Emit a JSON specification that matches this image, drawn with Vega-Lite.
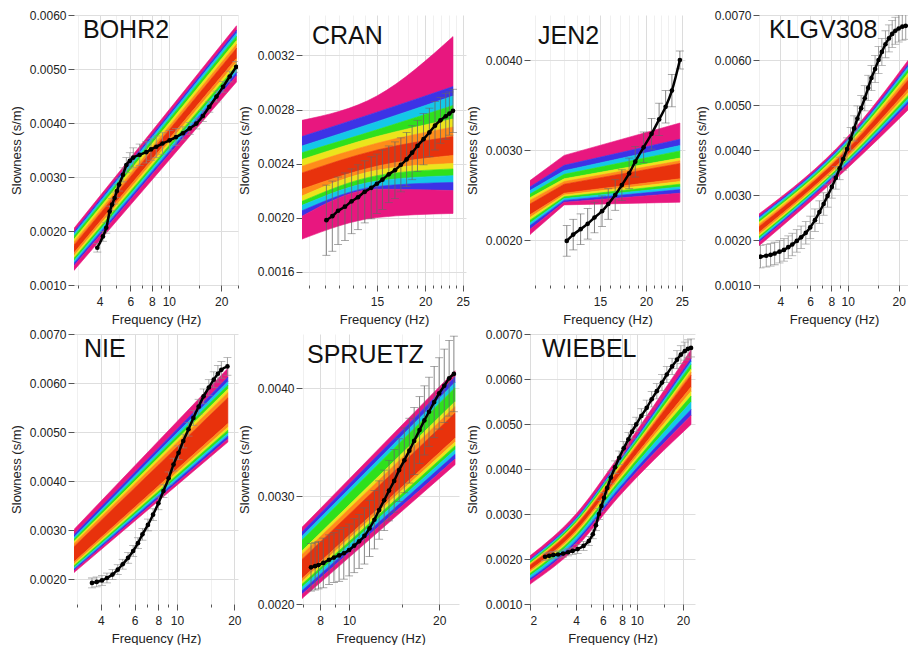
{
"$schema":"https://vega.github.io/schema/vega-lite/v6.json",
"padding":{"left":10,"top":9,"right":0,"bottom":0},
"bounds":"flush",
"columns":4,
"align":"each",
"spacing":{"row":49,"column":64},
"config":{
 "view":{"stroke":null},
 "font":"Liberation Sans",
 "axis":{"labelFontSize":12,"titleFontSize":13,"labelColor":"#222","titleColor":"#222","titleFontWeight":"normal","domain":false,"tickColor":"#555","gridColor":"#dedede","labelPadding":2,"titlePadding":5,"tickSize":5,"labelFont":"Liberation Sans","titleFont":"Liberation Sans","labelOverlap":false},
 "axisX":{"labelPadding":5,"titlePadding":6},
 "axisY":{"titlePadding":6,"tickSize":6,"format":".4f"},
 "area":{"interpolate":"monotone"},
 "title":{"fontSize":25,"fontWeight":"normal","anchor":"start","frame":"group","color":"#111","offset":-34,"font":"Liberation Sans"}
},
"datasets":{
"fan":[
{"p":"BOHR2","f":2.85,"b0":0.00205,"b1":0.001988,"b2":0.001949,"b3":0.001902,"b4":0.001847,"b5":0.001793,"b6":0.001738,"b7":0.001598,"b8":0.001543,"b9":0.001496,"b10":0.001449,"b11":0.001403,"b12":0.001356,"b13":0.00127},
{"p":"BOHR2","f":24.5,"b0":0.0058,"b1":0.005717,"b2":0.005665,"b3":0.005602,"b4":0.00553,"b5":0.005457,"b6":0.005384,"b7":0.005197,"b8":0.005124,"b9":0.005062,"b10":0.004999,"b11":0.004937,"b12":0.004874,"b13":0.00476},
{"p":"CRAN","f":9.6,"b0":0.00272,"b1":0.0026,"b2":0.00253,"b3":0.00248,"b4":0.00243,"b5":0.00238,"b6":0.00233,"b7":0.00221,"b8":0.00216,"b9":0.00212,"b10":0.00209,"b11":0.00205,"b12":0.00201,"b13":0.00184},
{"p":"CRAN","f":15,"b0":0.0029,"b1":0.00278,"b2":0.00271,"b3":0.00265,"b4":0.0026,"b5":0.00255,"b6":0.0025,"b7":0.00238,"b8":0.00235,"b9":0.00231,"b10":0.00227,"b11":0.00223,"b12":0.00221,"b13":0.002},
{"p":"CRAN","f":23.6,"b0":0.00334,"b1":0.00297,"b2":0.0029,"b3":0.00283,"b4":0.00273,"b5":0.00267,"b6":0.0026,"b7":0.00246,"b8":0.0024,"b9":0.00236,"b10":0.00231,"b11":0.00226,"b12":0.0022,"b13":0.00203},
{"p":"JEN2","f":9.7,"b0":0.00266,"b1":0.00259,"b2":0.00255,"b3":0.00251,"b4":0.00247,"b5":0.00244,"b6":0.0024,"b7":0.00228,"b8":0.00225,"b9":0.00222,"b10":0.00219,"b11":0.00216,"b12":0.00212,"b13":0.00206},
{"p":"JEN2","f":12,"b0":0.00294,"b1":0.00283,"b2":0.00277,"b3":0.00273,"b4":0.00268,"b5":0.00265,"b6":0.00262,"b7":0.00252,"b8":0.0025,"b9":0.00248,"b10":0.00246,"b11":0.00244,"b12":0.00242,"b13":0.00239},
{"p":"JEN2","f":24.7,"b0":0.0033,"b1":0.00312,"b2":0.00305,"b3":0.00299,"b4":0.00291,"b5":0.00288,"b6":0.00285,"b7":0.00268,"b8":0.00265,"b9":0.00262,"b10":0.00259,"b11":0.00256,"b12":0.00252,"b13":0.00242},
{"p":"KLGV308","f":2.99,"b0":0.00258,"b1":0.002523,"b2":0.002488,"b3":0.002445,"b4":0.002395,"b5":0.002346,"b6":0.002296,"b7":0.002168,"b8":0.002118,"b9":0.002076,"b10":0.002033,"b11":0.001991,"b12":0.001948,"b13":0.00187},
{"p":"KLGV308","f":10,"b0":0.0043,"b1":0.004244,"b2":0.004209,"b3":0.004167,"b4":0.004118,"b5":0.004069,"b6":0.00402,"b7":0.003894,"b8":0.003845,"b9":0.003803,"b10":0.003761,"b11":0.003719,"b12":0.003677,"b13":0.0036},
{"p":"KLGV308","f":23,"b0":0.00602,"b1":0.005931,"b2":0.005876,"b3":0.005809,"b4":0.005731,"b5":0.005654,"b6":0.005576,"b7":0.005376,"b8":0.005298,"b9":0.005232,"b10":0.005165,"b11":0.005099,"b12":0.005032,"b13":0.00491},
{"p":"NIE","f":2.89,"b0":0.00302,"b1":0.002914,"b2":0.002862,"b3":0.002818,"b4":0.002774,"b5":0.00273,"b6":0.002668,"b7":0.00236,"b8":0.002316,"b9":0.002281,"b10":0.002246,"b11":0.00221,"b12":0.002175,"b13":0.00214},
{"p":"NIE","f":18.5,"b0":0.0063,"b1":0.00612,"b2":0.00603,"b3":0.005955,"b4":0.00588,"b5":0.005805,"b6":0.0057,"b7":0.005175,"b8":0.0051,"b9":0.00504,"b10":0.00498,"b11":0.00492,"b12":0.00486,"b13":0.0048},
{"p":"SPRUETZ","f":6.96,"b0":0.00271,"b1":0.002667,"b2":0.002628,"b3":0.002591,"b4":0.002492,"b5":0.002459,"b6":0.002413,"b7":0.002235,"b8":0.002208,"b9":0.002182,"b10":0.002156,"b11":0.002123,"b12":0.00209,"b13":0.00205},
{"p":"SPRUETZ","f":22.6,"b0":0.00416,"b1":0.004103,"b2":0.004051,"b3":0.004003,"b4":0.003873,"b5":0.003829,"b6":0.003768,"b7":0.003534,"b8":0.003499,"b9":0.003464,"b10":0.003429,"b11":0.003386,"b12":0.003342,"b13":0.00329},
{"p":"WIEBEL","f":2,"b0":0.00207,"b1":0.001994,"b2":0.001969,"b3":0.001944,"b4":0.001906,"b5":0.001881,"b6":0.001856,"b7":0.001755,"b8":0.001717,"b9":0.001679,"b10":0.001629,"b11":0.001566,"b12":0.001516,"b13":0.00144},
{"p":"WIEBEL","f":4,"b0":0.003,"b1":0.002911,"b2":0.002882,"b3":0.002852,"b4":0.002808,"b5":0.002778,"b6":0.002748,"b7":0.00263,"b8":0.002586,"b9":0.002541,"b10":0.002482,"b11":0.002408,"b12":0.002349,"b13":0.00226},
{"p":"WIEBEL","f":7.5,"b0":0.00425,"b1":0.004143,"b2":0.004108,"b3":0.004072,"b4":0.004019,"b5":0.003983,"b6":0.003947,"b7":0.003805,"b8":0.003752,"b9":0.003698,"b10":0.003627,"b11":0.003538,"b12":0.003467,"b13":0.00336},
{"p":"WIEBEL","f":22.6,"b0":0.00665,"b1":0.006451,"b2":0.006384,"b3":0.006318,"b4":0.006218,"b5":0.006152,"b6":0.006086,"b7":0.00582,"b8":0.00572,"b9":0.005621,"b10":0.005488,"b11":0.005322,"b12":0.005189,"b13":0.00499}
],
"obs":[
{"p":"BOHR2","f":3.88,"s":0.00169,"lo":0.00161,"hi":0.00177},
{"p":"BOHR2","f":4.18,"s":0.0019,"lo":0.00181,"hi":0.00199},
{"p":"BOHR2","f":4.37,"s":0.00206,"lo":0.00196,"hi":0.00216},
{"p":"BOHR2","f":4.57,"s":0.00236,"lo":0.00226,"hi":0.00246},
{"p":"BOHR2","f":4.72,"s":0.00249,"lo":0.00238,"hi":0.0026},
{"p":"BOHR2","f":4.88,"s":0.00261,"lo":0.0025,"hi":0.00272},
{"p":"BOHR2","f":5.03,"s":0.00274,"lo":0.00262,"hi":0.00286},
{"p":"BOHR2","f":5.18,"s":0.00286,"lo":0.00274,"hi":0.00298},
{"p":"BOHR2","f":5.45,"s":0.00304,"lo":0.00291,"hi":0.00317},
{"p":"BOHR2","f":5.7,"s":0.00322,"lo":0.00308,"hi":0.00336},
{"p":"BOHR2","f":5.97,"s":0.0033,"lo":0.00315,"hi":0.00345},
{"p":"BOHR2","f":6.25,"s":0.00336,"lo":0.00318,"hi":0.00354},
{"p":"BOHR2","f":6.8,"s":0.00341,"lo":0.00321,"hi":0.00361},
{"p":"BOHR2","f":7.42,"s":0.00346,"lo":0.00326,"hi":0.00366},
{"p":"BOHR2","f":7.9,"s":0.00351,"lo":0.00331,"hi":0.00371},
{"p":"BOHR2","f":8.47,"s":0.00356,"lo":0.00336,"hi":0.00376},
{"p":"BOHR2","f":9.2,"s":0.00362,"lo":0.00342,"hi":0.00382},
{"p":"BOHR2","f":10.1,"s":0.00368,"lo":0.0035,"hi":0.00386},
{"p":"BOHR2","f":11,"s":0.00374,"lo":0.00358,"hi":0.0039},
{"p":"BOHR2","f":12.05,"s":0.00381,"lo":0.00369,"hi":0.00393},
{"p":"BOHR2","f":13.2,"s":0.0039,"lo":0.00379,"hi":0.00401},
{"p":"BOHR2","f":14.4,"s":0.00399,"lo":0.00389,"hi":0.00409},
{"p":"BOHR2","f":15.7,"s":0.00413,"lo":0.00403,"hi":0.00423},
{"p":"BOHR2","f":17.1,"s":0.0043,"lo":0.0042,"hi":0.0044},
{"p":"BOHR2","f":18.8,"s":0.00449,"lo":0.00439,"hi":0.00459},
{"p":"BOHR2","f":20.5,"s":0.00467,"lo":0.00457,"hi":0.00477},
{"p":"BOHR2","f":22.4,"s":0.00486,"lo":0.00476,"hi":0.00496},
{"p":"BOHR2","f":24.4,"s":0.00504,"lo":0.00494,"hi":0.00514},
{"p":"CRAN","f":11.1,"s":0.00198,"lo":0.00172,"hi":0.00224},
{"p":"CRAN","f":11.5,"s":0.00201,"lo":0.00175,"hi":0.00227},
{"p":"CRAN","f":11.9,"s":0.00205,"lo":0.0018,"hi":0.0023},
{"p":"CRAN","f":12.4,"s":0.00208,"lo":0.00183,"hi":0.00233},
{"p":"CRAN","f":12.9,"s":0.00212,"lo":0.00188,"hi":0.00236},
{"p":"CRAN","f":13.4,"s":0.00215,"lo":0.00191,"hi":0.00239},
{"p":"CRAN","f":13.95,"s":0.00219,"lo":0.00196,"hi":0.00242},
{"p":"CRAN","f":14.5,"s":0.00222,"lo":0.00199,"hi":0.00245},
{"p":"CRAN","f":15,"s":0.00225,"lo":0.00203,"hi":0.00247},
{"p":"CRAN","f":15.5,"s":0.00228,"lo":0.00206,"hi":0.0025},
{"p":"CRAN","f":16.1,"s":0.00232,"lo":0.00211,"hi":0.00253},
{"p":"CRAN","f":16.7,"s":0.00235,"lo":0.00214,"hi":0.00256},
{"p":"CRAN","f":17.3,"s":0.00239,"lo":0.00219,"hi":0.00259},
{"p":"CRAN","f":17.9,"s":0.00243,"lo":0.00223,"hi":0.00263},
{"p":"CRAN","f":18.5,"s":0.00248,"lo":0.00228,"hi":0.00268},
{"p":"CRAN","f":19.1,"s":0.00253,"lo":0.00234,"hi":0.00272},
{"p":"CRAN","f":19.8,"s":0.00258,"lo":0.00239,"hi":0.00277},
{"p":"CRAN","f":20.5,"s":0.00263,"lo":0.00245,"hi":0.00281},
{"p":"CRAN","f":21.2,"s":0.00268,"lo":0.0025,"hi":0.00286},
{"p":"CRAN","f":21.9,"s":0.00272,"lo":0.00255,"hi":0.00289},
{"p":"CRAN","f":22.6,"s":0.00275,"lo":0.00258,"hi":0.00292},
{"p":"CRAN","f":23.1,"s":0.00277,"lo":0.00261,"hi":0.00293},
{"p":"CRAN","f":23.6,"s":0.00279,"lo":0.00263,"hi":0.00295},
{"p":"JEN2","f":12.2,"s":0.00199,"lo":0.00182,"hi":0.00216},
{"p":"JEN2","f":12.7,"s":0.00206,"lo":0.00189,"hi":0.00223},
{"p":"JEN2","f":13.3,"s":0.00212,"lo":0.00195,"hi":0.00229},
{"p":"JEN2","f":13.9,"s":0.00218,"lo":0.00201,"hi":0.00235},
{"p":"JEN2","f":14.5,"s":0.00225,"lo":0.00208,"hi":0.00242},
{"p":"JEN2","f":15.2,"s":0.00232,"lo":0.00215,"hi":0.00249},
{"p":"JEN2","f":15.8,"s":0.0024,"lo":0.00223,"hi":0.00257},
{"p":"JEN2","f":16.5,"s":0.0025,"lo":0.00233,"hi":0.00267},
{"p":"JEN2","f":17.2,"s":0.00261,"lo":0.00244,"hi":0.00278},
{"p":"JEN2","f":18,"s":0.00274,"lo":0.00257,"hi":0.00291},
{"p":"JEN2","f":18.7,"s":0.00287,"lo":0.0027,"hi":0.00304},
{"p":"JEN2","f":19.7,"s":0.00303,"lo":0.00286,"hi":0.0032},
{"p":"JEN2","f":20.7,"s":0.00318,"lo":0.00301,"hi":0.00335},
{"p":"JEN2","f":21.7,"s":0.00334,"lo":0.00316,"hi":0.00352},
{"p":"JEN2","f":22.6,"s":0.00348,"lo":0.0033,"hi":0.00366},
{"p":"JEN2","f":23.5,"s":0.00366,"lo":0.00348,"hi":0.00384},
{"p":"JEN2","f":24.7,"s":0.004,"lo":0.0039,"hi":0.0041},
{"p":"KLGV308","f":3.05,"s":0.00163,"lo":0.00138,"hi":0.00188},
{"p":"KLGV308","f":3.3,"s":0.00165,"lo":0.0014,"hi":0.0019},
{"p":"KLGV308","f":3.5,"s":0.00167,"lo":0.00142,"hi":0.00192},
{"p":"KLGV308","f":3.7,"s":0.0017,"lo":0.00145,"hi":0.00195},
{"p":"KLGV308","f":3.95,"s":0.00174,"lo":0.00149,"hi":0.00199},
{"p":"KLGV308","f":4.2,"s":0.00178,"lo":0.00153,"hi":0.00203},
{"p":"KLGV308","f":4.45,"s":0.00184,"lo":0.00159,"hi":0.00209},
{"p":"KLGV308","f":4.7,"s":0.0019,"lo":0.00165,"hi":0.00215},
{"p":"KLGV308","f":5,"s":0.00198,"lo":0.00173,"hi":0.00223},
{"p":"KLGV308","f":5.3,"s":0.00206,"lo":0.00181,"hi":0.00231},
{"p":"KLGV308","f":5.65,"s":0.00216,"lo":0.00191,"hi":0.00241},
{"p":"KLGV308","f":6,"s":0.00228,"lo":0.00203,"hi":0.00253},
{"p":"KLGV308","f":6.4,"s":0.00244,"lo":0.00219,"hi":0.00269},
{"p":"KLGV308","f":6.8,"s":0.00262,"lo":0.00237,"hi":0.00287},
{"p":"KLGV308","f":7.2,"s":0.0028,"lo":0.00255,"hi":0.00305},
{"p":"KLGV308","f":7.6,"s":0.00298,"lo":0.00273,"hi":0.00323},
{"p":"KLGV308","f":8.05,"s":0.00318,"lo":0.00293,"hi":0.00343},
{"p":"KLGV308","f":8.5,"s":0.00338,"lo":0.00313,"hi":0.00363},
{"p":"KLGV308","f":8.95,"s":0.00359,"lo":0.00334,"hi":0.00384},
{"p":"KLGV308","f":9.4,"s":0.0038,"lo":0.00355,"hi":0.00405},
{"p":"KLGV308","f":9.9,"s":0.00402,"lo":0.00377,"hi":0.00427},
{"p":"KLGV308","f":10.4,"s":0.00425,"lo":0.004,"hi":0.0045},
{"p":"KLGV308","f":10.9,"s":0.00448,"lo":0.0042,"hi":0.00476},
{"p":"KLGV308","f":11.4,"s":0.0047,"lo":0.00442,"hi":0.00498},
{"p":"KLGV308","f":12,"s":0.00493,"lo":0.00465,"hi":0.00521},
{"p":"KLGV308","f":12.6,"s":0.00515,"lo":0.00487,"hi":0.00543},
{"p":"KLGV308","f":13.2,"s":0.00538,"lo":0.0051,"hi":0.00566},
{"p":"KLGV308","f":13.8,"s":0.0056,"lo":0.00532,"hi":0.00588},
{"p":"KLGV308","f":14.5,"s":0.0058,"lo":0.0055,"hi":0.0061},
{"p":"KLGV308","f":15.2,"s":0.006,"lo":0.0057,"hi":0.0063},
{"p":"KLGV308","f":15.9,"s":0.00618,"lo":0.00588,"hi":0.00648},
{"p":"KLGV308","f":16.7,"s":0.00635,"lo":0.00605,"hi":0.00665},
{"p":"KLGV308","f":17.5,"s":0.00648,"lo":0.00618,"hi":0.00678},
{"p":"KLGV308","f":18.3,"s":0.00658,"lo":0.00628,"hi":0.00688},
{"p":"KLGV308","f":19.1,"s":0.00665,"lo":0.00635,"hi":0.00695},
{"p":"KLGV308","f":20,"s":0.0067,"lo":0.0064,"hi":0.007},
{"p":"KLGV308","f":21,"s":0.00674,"lo":0.00644,"hi":0.00704},
{"p":"KLGV308","f":22,"s":0.00676,"lo":0.00646,"hi":0.00706},
{"p":"NIE","f":3.59,"s":0.00193,"lo":0.00183,"hi":0.00203},
{"p":"NIE","f":3.8,"s":0.00195,"lo":0.00185,"hi":0.00205},
{"p":"NIE","f":4.05,"s":0.00198,"lo":0.00188,"hi":0.00208},
{"p":"NIE","f":4.3,"s":0.00203,"lo":0.00193,"hi":0.00213},
{"p":"NIE","f":4.6,"s":0.0021,"lo":0.002,"hi":0.0022},
{"p":"NIE","f":4.9,"s":0.0022,"lo":0.0021,"hi":0.0023},
{"p":"NIE","f":5.2,"s":0.00231,"lo":0.00221,"hi":0.00241},
{"p":"NIE","f":5.55,"s":0.00244,"lo":0.00233,"hi":0.00255},
{"p":"NIE","f":5.9,"s":0.00258,"lo":0.00247,"hi":0.00269},
{"p":"NIE","f":6.25,"s":0.00274,"lo":0.00263,"hi":0.00285},
{"p":"NIE","f":6.6,"s":0.00292,"lo":0.0028,"hi":0.00304},
{"p":"NIE","f":7.05,"s":0.00311,"lo":0.00299,"hi":0.00323},
{"p":"NIE","f":7.5,"s":0.00332,"lo":0.0032,"hi":0.00344},
{"p":"NIE","f":8,"s":0.00355,"lo":0.00342,"hi":0.00368},
{"p":"NIE","f":8.5,"s":0.0038,"lo":0.00367,"hi":0.00393},
{"p":"NIE","f":9.05,"s":0.00406,"lo":0.00393,"hi":0.00419},
{"p":"NIE","f":9.6,"s":0.00434,"lo":0.00421,"hi":0.00447},
{"p":"NIE","f":10.2,"s":0.00458,"lo":0.00444,"hi":0.00472},
{"p":"NIE","f":10.8,"s":0.00482,"lo":0.00468,"hi":0.00496},
{"p":"NIE","f":11.5,"s":0.00506,"lo":0.00492,"hi":0.0052},
{"p":"NIE","f":12.2,"s":0.00529,"lo":0.00514,"hi":0.00544},
{"p":"NIE","f":13,"s":0.00552,"lo":0.00537,"hi":0.00567},
{"p":"NIE","f":13.8,"s":0.00573,"lo":0.00558,"hi":0.00588},
{"p":"NIE","f":14.7,"s":0.00591,"lo":0.00575,"hi":0.00607},
{"p":"NIE","f":15.6,"s":0.00607,"lo":0.00591,"hi":0.00623},
{"p":"NIE","f":16.4,"s":0.00619,"lo":0.00602,"hi":0.00636},
{"p":"NIE","f":17.1,"s":0.00627,"lo":0.0061,"hi":0.00644},
{"p":"NIE","f":18.4,"s":0.00634,"lo":0.00616,"hi":0.00652},
{"p":"SPRUETZ","f":7.46,"s":0.00234,"lo":0.00212,"hi":0.00256},
{"p":"SPRUETZ","f":7.7,"s":0.00235,"lo":0.00213,"hi":0.00257},
{"p":"SPRUETZ","f":7.9,"s":0.00236,"lo":0.00214,"hi":0.00258},
{"p":"SPRUETZ","f":8.2,"s":0.00238,"lo":0.00215,"hi":0.00261},
{"p":"SPRUETZ","f":8.57,"s":0.00241,"lo":0.00218,"hi":0.00264},
{"p":"SPRUETZ","f":8.9,"s":0.00243,"lo":0.0022,"hi":0.00266},
{"p":"SPRUETZ","f":9.26,"s":0.00245,"lo":0.00221,"hi":0.00269},
{"p":"SPRUETZ","f":9.6,"s":0.00247,"lo":0.00223,"hi":0.00271},
{"p":"SPRUETZ","f":10,"s":0.0025,"lo":0.00226,"hi":0.00274},
{"p":"SPRUETZ","f":10.4,"s":0.00254,"lo":0.00229,"hi":0.00279},
{"p":"SPRUETZ","f":10.8,"s":0.00258,"lo":0.00233,"hi":0.00283},
{"p":"SPRUETZ","f":11.25,"s":0.00263,"lo":0.00237,"hi":0.00289},
{"p":"SPRUETZ","f":11.7,"s":0.0027,"lo":0.00244,"hi":0.00296},
{"p":"SPRUETZ","f":12.15,"s":0.00278,"lo":0.00251,"hi":0.00305},
{"p":"SPRUETZ","f":12.6,"s":0.00287,"lo":0.0026,"hi":0.00314},
{"p":"SPRUETZ","f":13.1,"s":0.00296,"lo":0.00268,"hi":0.00324},
{"p":"SPRUETZ","f":13.6,"s":0.00305,"lo":0.00277,"hi":0.00333},
{"p":"SPRUETZ","f":14.15,"s":0.00314,"lo":0.00285,"hi":0.00343},
{"p":"SPRUETZ","f":14.7,"s":0.00324,"lo":0.00295,"hi":0.00353},
{"p":"SPRUETZ","f":15.3,"s":0.00333,"lo":0.00303,"hi":0.00363},
{"p":"SPRUETZ","f":15.9,"s":0.00342,"lo":0.00312,"hi":0.00372},
{"p":"SPRUETZ","f":16.5,"s":0.00351,"lo":0.0032,"hi":0.00382},
{"p":"SPRUETZ","f":17.2,"s":0.00361,"lo":0.0033,"hi":0.00392},
{"p":"SPRUETZ","f":17.85,"s":0.0037,"lo":0.00338,"hi":0.00402},
{"p":"SPRUETZ","f":18.5,"s":0.00378,"lo":0.00346,"hi":0.0041},
{"p":"SPRUETZ","f":19.25,"s":0.00387,"lo":0.00354,"hi":0.0042},
{"p":"SPRUETZ","f":20,"s":0.00395,"lo":0.00362,"hi":0.00428},
{"p":"SPRUETZ","f":20.8,"s":0.00402,"lo":0.00368,"hi":0.00436},
{"p":"SPRUETZ","f":21.6,"s":0.00409,"lo":0.00374,"hi":0.00444},
{"p":"SPRUETZ","f":22.4,"s":0.00413,"lo":0.00378,"hi":0.00448},
{"p":"WIEBEL","f":2.51,"s":0.00205,"lo":0.00197,"hi":0.00213},
{"p":"WIEBEL","f":2.67,"s":0.00207,"lo":0.00199,"hi":0.00215},
{"p":"WIEBEL","f":2.84,"s":0.00209,"lo":0.00201,"hi":0.00217},
{"p":"WIEBEL","f":3.05,"s":0.0021,"lo":0.00202,"hi":0.00218},
{"p":"WIEBEL","f":3.29,"s":0.00212,"lo":0.00204,"hi":0.0022},
{"p":"WIEBEL","f":3.55,"s":0.00215,"lo":0.00207,"hi":0.00223},
{"p":"WIEBEL","f":3.8,"s":0.00218,"lo":0.0021,"hi":0.00226},
{"p":"WIEBEL","f":4.1,"s":0.00222,"lo":0.00212,"hi":0.00232},
{"p":"WIEBEL","f":4.48,"s":0.00229,"lo":0.00219,"hi":0.00239},
{"p":"WIEBEL","f":4.85,"s":0.0024,"lo":0.0023,"hi":0.0025},
{"p":"WIEBEL","f":5.15,"s":0.00255,"lo":0.00245,"hi":0.00265},
{"p":"WIEBEL","f":5.4,"s":0.00275,"lo":0.00263,"hi":0.00287},
{"p":"WIEBEL","f":5.65,"s":0.003,"lo":0.00288,"hi":0.00312},
{"p":"WIEBEL","f":5.87,"s":0.00318,"lo":0.00306,"hi":0.0033},
{"p":"WIEBEL","f":6.1,"s":0.00336,"lo":0.00324,"hi":0.00348},
{"p":"WIEBEL","f":6.4,"s":0.00358,"lo":0.00344,"hi":0.00372},
{"p":"WIEBEL","f":6.76,"s":0.00381,"lo":0.00367,"hi":0.00395},
{"p":"WIEBEL","f":7.2,"s":0.00404,"lo":0.0039,"hi":0.00418},
{"p":"WIEBEL","f":7.66,"s":0.00425,"lo":0.0041,"hi":0.0044},
{"p":"WIEBEL","f":8.2,"s":0.00446,"lo":0.00431,"hi":0.00461},
{"p":"WIEBEL","f":8.8,"s":0.00466,"lo":0.00451,"hi":0.00481},
{"p":"WIEBEL","f":9.3,"s":0.00483,"lo":0.00467,"hi":0.00499},
{"p":"WIEBEL","f":9.9,"s":0.00499,"lo":0.00483,"hi":0.00515},
{"p":"WIEBEL","f":10.7,"s":0.00518,"lo":0.00502,"hi":0.00534},
{"p":"WIEBEL","f":11.6,"s":0.00536,"lo":0.00519,"hi":0.00553},
{"p":"WIEBEL","f":12.5,"s":0.00555,"lo":0.00538,"hi":0.00572},
{"p":"WIEBEL","f":13.5,"s":0.00573,"lo":0.00556,"hi":0.0059},
{"p":"WIEBEL","f":14.6,"s":0.00592,"lo":0.00574,"hi":0.0061},
{"p":"WIEBEL","f":15.7,"s":0.0061,"lo":0.00592,"hi":0.00628},
{"p":"WIEBEL","f":17,"s":0.00628,"lo":0.0061,"hi":0.00646},
{"p":"WIEBEL","f":18.3,"s":0.00643,"lo":0.00623,"hi":0.00663},
{"p":"WIEBEL","f":19.4,"s":0.00654,"lo":0.00634,"hi":0.00674},
{"p":"WIEBEL","f":20.6,"s":0.00662,"lo":0.00642,"hi":0.00682},
{"p":"WIEBEL","f":21.6,"s":0.00667,"lo":0.00647,"hi":0.00687},
{"p":"WIEBEL","f":22.6,"s":0.00669,"lo":0.00649,"hi":0.00689}
]
},
"concat":[
{"width":164,"height":270,"title":{"text":"BOHR2","dx":9},
"layer":[
{"data":{"name":"fan"},"transform":[{"filter":"datum.p==='BOHR2'"}],
"encoding":{"x":{"field":"f","type":"quantitative","title":"Frequency (Hz)","scale":{"type":"log","domain":[2.85,25]},"axis":{"labelOverlap":false,"values":[3,4,5,6,7,8,9,10,15,20,25],"labelExpr":"indexof([4,6,8,10,20],datum.value)>=0 ? ''+datum.value : ''","gridColor":{"condition":{"test":"indexof([4,6,8,10,20],datum.value)>=0","value":"#dcdcdc"},"value":"#f0f0f0"},"tickSize":{"condition":{"test":"indexof([4,6,8,10,20],datum.value)>=0","value":6},"value":3}}}},
"layer":[
{"mark":{"type":"area","fill":"#e8177f","stroke":"#e8177f","strokeWidth":0.6,"clip":true},"encoding":{"y":{"field":"b0","type":"quantitative","title":"Slowness (s/m)","scale":{"domain":[0.001,0.006]},"axis":{"values":[0.001,0.002,0.003,0.004,0.005,0.006],"format":".4f","labelOverlap":false}},"y2":{"field":"b1"}}},
{"mark":{"type":"area","fill":"#3c33e6","stroke":"#3c33e6","strokeWidth":0.6,"clip":true},"encoding":{"y":{"field":"b1","type":"quantitative","title":"Slowness (s/m)","scale":{"domain":[0.001,0.006]}},"y2":{"field":"b2"}}},
{"mark":{"type":"area","fill":"#14c8e8","stroke":"#14c8e8","strokeWidth":0.6,"clip":true},"encoding":{"y":{"field":"b2","type":"quantitative","title":"Slowness (s/m)","scale":{"domain":[0.001,0.006]}},"y2":{"field":"b3"}}},
{"mark":{"type":"area","fill":"#2fe01c","stroke":"#2fe01c","strokeWidth":0.6,"clip":true},"encoding":{"y":{"field":"b3","type":"quantitative","title":"Slowness (s/m)","scale":{"domain":[0.001,0.006]}},"y2":{"field":"b4"}}},
{"mark":{"type":"area","fill":"#ece41c","stroke":"#ece41c","strokeWidth":0.6,"clip":true},"encoding":{"y":{"field":"b4","type":"quantitative","title":"Slowness (s/m)","scale":{"domain":[0.001,0.006]}},"y2":{"field":"b5"}}},
{"mark":{"type":"area","fill":"#ff8c1a","stroke":"#ff8c1a","strokeWidth":0.6,"clip":true},"encoding":{"y":{"field":"b5","type":"quantitative","title":"Slowness (s/m)","scale":{"domain":[0.001,0.006]}},"y2":{"field":"b6"}}},
{"mark":{"type":"area","fill":"#e8320c","stroke":"#e8320c","strokeWidth":0.6,"clip":true},"encoding":{"y":{"field":"b6","type":"quantitative","title":"Slowness (s/m)","scale":{"domain":[0.001,0.006]}},"y2":{"field":"b7"}}},
{"mark":{"type":"area","fill":"#ff8c1a","stroke":"#ff8c1a","strokeWidth":0.6,"clip":true},"encoding":{"y":{"field":"b7","type":"quantitative","title":"Slowness (s/m)","scale":{"domain":[0.001,0.006]}},"y2":{"field":"b8"}}},
{"mark":{"type":"area","fill":"#ece41c","stroke":"#ece41c","strokeWidth":0.6,"clip":true},"encoding":{"y":{"field":"b8","type":"quantitative","title":"Slowness (s/m)","scale":{"domain":[0.001,0.006]}},"y2":{"field":"b9"}}},
{"mark":{"type":"area","fill":"#2fe01c","stroke":"#2fe01c","strokeWidth":0.6,"clip":true},"encoding":{"y":{"field":"b9","type":"quantitative","title":"Slowness (s/m)","scale":{"domain":[0.001,0.006]}},"y2":{"field":"b10"}}},
{"mark":{"type":"area","fill":"#14c8e8","stroke":"#14c8e8","strokeWidth":0.6,"clip":true},"encoding":{"y":{"field":"b10","type":"quantitative","title":"Slowness (s/m)","scale":{"domain":[0.001,0.006]}},"y2":{"field":"b11"}}},
{"mark":{"type":"area","fill":"#3c33e6","stroke":"#3c33e6","strokeWidth":0.6,"clip":true},"encoding":{"y":{"field":"b11","type":"quantitative","title":"Slowness (s/m)","scale":{"domain":[0.001,0.006]}},"y2":{"field":"b12"}}},
{"mark":{"type":"area","fill":"#e8177f","stroke":"#e8177f","strokeWidth":0.6,"clip":true},"encoding":{"y":{"field":"b12","type":"quantitative","title":"Slowness (s/m)","scale":{"domain":[0.001,0.006]}},"y2":{"field":"b13"}}}
]},
{"data":{"name":"obs"},"transform":[{"filter":"datum.p==='BOHR2'"}],
"encoding":{"x":{"field":"f","type":"quantitative","title":"Frequency (Hz)","scale":{"type":"log","domain":[2.85,25]}}},
"layer":[
{"mark":{"type":"rule","color":"#888","strokeWidth":0.8,"clip":true},"encoding":{"y":{"field":"lo","type":"quantitative","title":"Slowness (s/m)","scale":{"domain":[0.001,0.006]}},"y2":{"field":"hi"}}},
{"mark":{"type":"tick","orient":"horizontal","color":"#888","size":8,"thickness":0.8,"clip":true},"encoding":{"y":{"field":"lo","type":"quantitative","title":"Slowness (s/m)","scale":{"domain":[0.001,0.006]}}}},
{"mark":{"type":"tick","orient":"horizontal","color":"#888","size":8,"thickness":0.8,"clip":true},"encoding":{"y":{"field":"hi","type":"quantitative","title":"Slowness (s/m)","scale":{"domain":[0.001,0.006]}}}},
{"mark":{"type":"line","color":"#000","strokeWidth":2.5,"interpolate":"monotone","clip":true},"encoding":{"y":{"field":"s","type":"quantitative","title":"Slowness (s/m)","scale":{"domain":[0.001,0.006]}}}},
{"mark":{"type":"circle","color":"#000","size":22,"opacity":1,"clip":true},"encoding":{"y":{"field":"s","type":"quantitative","title":"Slowness (s/m)","scale":{"domain":[0.001,0.006]}}}}
]}
]},
{"width":164,"height":270,"title":{"text":"CRAN","dx":10},
"layer":[
{"data":{"name":"fan"},"transform":[{"filter":"datum.p==='CRAN'"}],
"encoding":{"x":{"field":"f","type":"quantitative","title":"Frequency (Hz)","scale":{"type":"log","domain":[9.6,25.5]},"axis":{"labelOverlap":false,"values":[10,11,12,13,14,15,16,17,18,19,20,21,22,23,24,25],"labelExpr":"indexof([15,20,25],datum.value)>=0 ? ''+datum.value : ''","gridColor":{"condition":{"test":"indexof([15,20,25],datum.value)>=0","value":"#dcdcdc"},"value":"#f0f0f0"},"tickSize":{"condition":{"test":"indexof([15,20,25],datum.value)>=0","value":6},"value":3}}}},
"layer":[
{"mark":{"type":"area","fill":"#e8177f","stroke":"#e8177f","strokeWidth":0.6,"clip":true},"encoding":{"y":{"field":"b0","type":"quantitative","title":"Slowness (s/m)","scale":{"domain":[0.0015,0.0035]},"axis":{"values":[0.0016,0.002,0.0024,0.0028,0.0032],"format":".4f","labelOverlap":false}},"y2":{"field":"b1"}}},
{"mark":{"type":"area","fill":"#3c33e6","stroke":"#3c33e6","strokeWidth":0.6,"clip":true},"encoding":{"y":{"field":"b1","type":"quantitative","title":"Slowness (s/m)","scale":{"domain":[0.0015,0.0035]}},"y2":{"field":"b2"}}},
{"mark":{"type":"area","fill":"#14c8e8","stroke":"#14c8e8","strokeWidth":0.6,"clip":true},"encoding":{"y":{"field":"b2","type":"quantitative","title":"Slowness (s/m)","scale":{"domain":[0.0015,0.0035]}},"y2":{"field":"b3"}}},
{"mark":{"type":"area","fill":"#2fe01c","stroke":"#2fe01c","strokeWidth":0.6,"clip":true},"encoding":{"y":{"field":"b3","type":"quantitative","title":"Slowness (s/m)","scale":{"domain":[0.0015,0.0035]}},"y2":{"field":"b4"}}},
{"mark":{"type":"area","fill":"#ece41c","stroke":"#ece41c","strokeWidth":0.6,"clip":true},"encoding":{"y":{"field":"b4","type":"quantitative","title":"Slowness (s/m)","scale":{"domain":[0.0015,0.0035]}},"y2":{"field":"b5"}}},
{"mark":{"type":"area","fill":"#ff8c1a","stroke":"#ff8c1a","strokeWidth":0.6,"clip":true},"encoding":{"y":{"field":"b5","type":"quantitative","title":"Slowness (s/m)","scale":{"domain":[0.0015,0.0035]}},"y2":{"field":"b6"}}},
{"mark":{"type":"area","fill":"#e8320c","stroke":"#e8320c","strokeWidth":0.6,"clip":true},"encoding":{"y":{"field":"b6","type":"quantitative","title":"Slowness (s/m)","scale":{"domain":[0.0015,0.0035]}},"y2":{"field":"b7"}}},
{"mark":{"type":"area","fill":"#ff8c1a","stroke":"#ff8c1a","strokeWidth":0.6,"clip":true},"encoding":{"y":{"field":"b7","type":"quantitative","title":"Slowness (s/m)","scale":{"domain":[0.0015,0.0035]}},"y2":{"field":"b8"}}},
{"mark":{"type":"area","fill":"#ece41c","stroke":"#ece41c","strokeWidth":0.6,"clip":true},"encoding":{"y":{"field":"b8","type":"quantitative","title":"Slowness (s/m)","scale":{"domain":[0.0015,0.0035]}},"y2":{"field":"b9"}}},
{"mark":{"type":"area","fill":"#2fe01c","stroke":"#2fe01c","strokeWidth":0.6,"clip":true},"encoding":{"y":{"field":"b9","type":"quantitative","title":"Slowness (s/m)","scale":{"domain":[0.0015,0.0035]}},"y2":{"field":"b10"}}},
{"mark":{"type":"area","fill":"#14c8e8","stroke":"#14c8e8","strokeWidth":0.6,"clip":true},"encoding":{"y":{"field":"b10","type":"quantitative","title":"Slowness (s/m)","scale":{"domain":[0.0015,0.0035]}},"y2":{"field":"b11"}}},
{"mark":{"type":"area","fill":"#3c33e6","stroke":"#3c33e6","strokeWidth":0.6,"clip":true},"encoding":{"y":{"field":"b11","type":"quantitative","title":"Slowness (s/m)","scale":{"domain":[0.0015,0.0035]}},"y2":{"field":"b12"}}},
{"mark":{"type":"area","fill":"#e8177f","stroke":"#e8177f","strokeWidth":0.6,"clip":true},"encoding":{"y":{"field":"b12","type":"quantitative","title":"Slowness (s/m)","scale":{"domain":[0.0015,0.0035]}},"y2":{"field":"b13"}}}
]},
{"data":{"name":"obs"},"transform":[{"filter":"datum.p==='CRAN'"}],
"encoding":{"x":{"field":"f","type":"quantitative","title":"Frequency (Hz)","scale":{"type":"log","domain":[9.6,25.5]}}},
"layer":[
{"mark":{"type":"rule","color":"#666","strokeWidth":0.8,"clip":true},"encoding":{"y":{"field":"lo","type":"quantitative","title":"Slowness (s/m)","scale":{"domain":[0.0015,0.0035]}},"y2":{"field":"hi"}}},
{"mark":{"type":"tick","orient":"horizontal","color":"#666","size":8,"thickness":0.8,"clip":true},"encoding":{"y":{"field":"lo","type":"quantitative","title":"Slowness (s/m)","scale":{"domain":[0.0015,0.0035]}}}},
{"mark":{"type":"tick","orient":"horizontal","color":"#666","size":8,"thickness":0.8,"clip":true},"encoding":{"y":{"field":"hi","type":"quantitative","title":"Slowness (s/m)","scale":{"domain":[0.0015,0.0035]}}}},
{"mark":{"type":"line","color":"#000","strokeWidth":2.5,"interpolate":"monotone","clip":true},"encoding":{"y":{"field":"s","type":"quantitative","title":"Slowness (s/m)","scale":{"domain":[0.0015,0.0035]}}}},
{"mark":{"type":"circle","color":"#000","size":22,"opacity":1,"clip":true},"encoding":{"y":{"field":"s","type":"quantitative","title":"Slowness (s/m)","scale":{"domain":[0.0015,0.0035]}}}}
]}
]},
{"width":155,"height":270,"title":{"text":"JEN2","dx":8},
"layer":[
{"data":{"name":"fan"},"transform":[{"filter":"datum.p==='JEN2'"}],
"encoding":{"x":{"field":"f","type":"quantitative","title":"Frequency (Hz)","scale":{"type":"log","domain":[9.7,25.5]},"axis":{"labelOverlap":false,"values":[10,11,12,13,14,15,16,17,18,19,20,21,22,23,24,25],"labelExpr":"indexof([15,20,25],datum.value)>=0 ? ''+datum.value : ''","gridColor":{"condition":{"test":"indexof([15,20,25],datum.value)>=0","value":"#dcdcdc"},"value":"#f0f0f0"},"tickSize":{"condition":{"test":"indexof([15,20,25],datum.value)>=0","value":6},"value":3}}}},
"layer":[
{"mark":{"type":"area","interpolate":"linear","fill":"#e8177f","stroke":"#e8177f","strokeWidth":0.6,"clip":true},"encoding":{"y":{"field":"b0","type":"quantitative","title":"Slowness (s/m)","scale":{"domain":[0.0015,0.0045]},"axis":{"values":[0.002,0.003,0.004],"format":".4f","labelOverlap":false}},"y2":{"field":"b1"}}},
{"mark":{"type":"area","interpolate":"linear","fill":"#3c33e6","stroke":"#3c33e6","strokeWidth":0.6,"clip":true},"encoding":{"y":{"field":"b1","type":"quantitative","title":"Slowness (s/m)","scale":{"domain":[0.0015,0.0045]}},"y2":{"field":"b2"}}},
{"mark":{"type":"area","interpolate":"linear","fill":"#14c8e8","stroke":"#14c8e8","strokeWidth":0.6,"clip":true},"encoding":{"y":{"field":"b2","type":"quantitative","title":"Slowness (s/m)","scale":{"domain":[0.0015,0.0045]}},"y2":{"field":"b3"}}},
{"mark":{"type":"area","interpolate":"linear","fill":"#2fe01c","stroke":"#2fe01c","strokeWidth":0.6,"clip":true},"encoding":{"y":{"field":"b3","type":"quantitative","title":"Slowness (s/m)","scale":{"domain":[0.0015,0.0045]}},"y2":{"field":"b4"}}},
{"mark":{"type":"area","interpolate":"linear","fill":"#ece41c","stroke":"#ece41c","strokeWidth":0.6,"clip":true},"encoding":{"y":{"field":"b4","type":"quantitative","title":"Slowness (s/m)","scale":{"domain":[0.0015,0.0045]}},"y2":{"field":"b5"}}},
{"mark":{"type":"area","interpolate":"linear","fill":"#ff8c1a","stroke":"#ff8c1a","strokeWidth":0.6,"clip":true},"encoding":{"y":{"field":"b5","type":"quantitative","title":"Slowness (s/m)","scale":{"domain":[0.0015,0.0045]}},"y2":{"field":"b6"}}},
{"mark":{"type":"area","interpolate":"linear","fill":"#e8320c","stroke":"#e8320c","strokeWidth":0.6,"clip":true},"encoding":{"y":{"field":"b6","type":"quantitative","title":"Slowness (s/m)","scale":{"domain":[0.0015,0.0045]}},"y2":{"field":"b7"}}},
{"mark":{"type":"area","interpolate":"linear","fill":"#ff8c1a","stroke":"#ff8c1a","strokeWidth":0.6,"clip":true},"encoding":{"y":{"field":"b7","type":"quantitative","title":"Slowness (s/m)","scale":{"domain":[0.0015,0.0045]}},"y2":{"field":"b8"}}},
{"mark":{"type":"area","interpolate":"linear","fill":"#ece41c","stroke":"#ece41c","strokeWidth":0.6,"clip":true},"encoding":{"y":{"field":"b8","type":"quantitative","title":"Slowness (s/m)","scale":{"domain":[0.0015,0.0045]}},"y2":{"field":"b9"}}},
{"mark":{"type":"area","interpolate":"linear","fill":"#2fe01c","stroke":"#2fe01c","strokeWidth":0.6,"clip":true},"encoding":{"y":{"field":"b9","type":"quantitative","title":"Slowness (s/m)","scale":{"domain":[0.0015,0.0045]}},"y2":{"field":"b10"}}},
{"mark":{"type":"area","interpolate":"linear","fill":"#14c8e8","stroke":"#14c8e8","strokeWidth":0.6,"clip":true},"encoding":{"y":{"field":"b10","type":"quantitative","title":"Slowness (s/m)","scale":{"domain":[0.0015,0.0045]}},"y2":{"field":"b11"}}},
{"mark":{"type":"area","interpolate":"linear","fill":"#3c33e6","stroke":"#3c33e6","strokeWidth":0.6,"clip":true},"encoding":{"y":{"field":"b11","type":"quantitative","title":"Slowness (s/m)","scale":{"domain":[0.0015,0.0045]}},"y2":{"field":"b12"}}},
{"mark":{"type":"area","interpolate":"linear","fill":"#e8177f","stroke":"#e8177f","strokeWidth":0.6,"clip":true},"encoding":{"y":{"field":"b12","type":"quantitative","title":"Slowness (s/m)","scale":{"domain":[0.0015,0.0045]}},"y2":{"field":"b13"}}}
]},
{"data":{"name":"obs"},"transform":[{"filter":"datum.p==='JEN2'"}],
"encoding":{"x":{"field":"f","type":"quantitative","title":"Frequency (Hz)","scale":{"type":"log","domain":[9.7,25.5]}}},
"layer":[
{"mark":{"type":"rule","color":"#666","strokeWidth":0.8,"clip":true},"encoding":{"y":{"field":"lo","type":"quantitative","title":"Slowness (s/m)","scale":{"domain":[0.0015,0.0045]}},"y2":{"field":"hi"}}},
{"mark":{"type":"tick","orient":"horizontal","color":"#666","size":8,"thickness":0.8,"clip":true},"encoding":{"y":{"field":"lo","type":"quantitative","title":"Slowness (s/m)","scale":{"domain":[0.0015,0.0045]}}}},
{"mark":{"type":"tick","orient":"horizontal","color":"#666","size":8,"thickness":0.8,"clip":true},"encoding":{"y":{"field":"hi","type":"quantitative","title":"Slowness (s/m)","scale":{"domain":[0.0015,0.0045]}}}},
{"mark":{"type":"line","color":"#000","strokeWidth":2.5,"interpolate":"monotone","clip":true},"encoding":{"y":{"field":"s","type":"quantitative","title":"Slowness (s/m)","scale":{"domain":[0.0015,0.0045]}}}},
{"mark":{"type":"circle","color":"#000","size":22,"opacity":1,"clip":true},"encoding":{"y":{"field":"s","type":"quantitative","title":"Slowness (s/m)","scale":{"domain":[0.0015,0.0045]}}}}
]}
]},
{"width":150,"height":270,"title":{"text":"KLGV308","dx":10},
"layer":[
{"data":{"name":"fan"},"transform":[{"filter":"datum.p==='KLGV308'"}],
"encoding":{"x":{"field":"f","type":"quantitative","title":"Frequency (Hz)","scale":{"type":"log","domain":[2.99,23]},"axis":{"labelOverlap":false,"values":[3,4,5,6,7,8,9,10,15,20],"labelExpr":"indexof([4,6,8,10,20],datum.value)>=0 ? ''+datum.value : ''","gridColor":{"condition":{"test":"indexof([4,6,8,10,20],datum.value)>=0","value":"#dcdcdc"},"value":"#f0f0f0"},"tickSize":{"condition":{"test":"indexof([4,6,8,10,20],datum.value)>=0","value":6},"value":3}}}},
"layer":[
{"mark":{"type":"area","fill":"#e8177f","stroke":"#e8177f","strokeWidth":0.6,"clip":true},"encoding":{"y":{"field":"b0","type":"quantitative","title":"Slowness (s/m)","scale":{"domain":[0.001,0.007]},"axis":{"values":[0.001,0.002,0.003,0.004,0.005,0.006,0.007],"format":".4f","labelOverlap":false}},"y2":{"field":"b1"}}},
{"mark":{"type":"area","fill":"#3c33e6","stroke":"#3c33e6","strokeWidth":0.6,"clip":true},"encoding":{"y":{"field":"b1","type":"quantitative","title":"Slowness (s/m)","scale":{"domain":[0.001,0.007]}},"y2":{"field":"b2"}}},
{"mark":{"type":"area","fill":"#14c8e8","stroke":"#14c8e8","strokeWidth":0.6,"clip":true},"encoding":{"y":{"field":"b2","type":"quantitative","title":"Slowness (s/m)","scale":{"domain":[0.001,0.007]}},"y2":{"field":"b3"}}},
{"mark":{"type":"area","fill":"#2fe01c","stroke":"#2fe01c","strokeWidth":0.6,"clip":true},"encoding":{"y":{"field":"b3","type":"quantitative","title":"Slowness (s/m)","scale":{"domain":[0.001,0.007]}},"y2":{"field":"b4"}}},
{"mark":{"type":"area","fill":"#ece41c","stroke":"#ece41c","strokeWidth":0.6,"clip":true},"encoding":{"y":{"field":"b4","type":"quantitative","title":"Slowness (s/m)","scale":{"domain":[0.001,0.007]}},"y2":{"field":"b5"}}},
{"mark":{"type":"area","fill":"#ff8c1a","stroke":"#ff8c1a","strokeWidth":0.6,"clip":true},"encoding":{"y":{"field":"b5","type":"quantitative","title":"Slowness (s/m)","scale":{"domain":[0.001,0.007]}},"y2":{"field":"b6"}}},
{"mark":{"type":"area","fill":"#e8320c","stroke":"#e8320c","strokeWidth":0.6,"clip":true},"encoding":{"y":{"field":"b6","type":"quantitative","title":"Slowness (s/m)","scale":{"domain":[0.001,0.007]}},"y2":{"field":"b7"}}},
{"mark":{"type":"area","fill":"#ff8c1a","stroke":"#ff8c1a","strokeWidth":0.6,"clip":true},"encoding":{"y":{"field":"b7","type":"quantitative","title":"Slowness (s/m)","scale":{"domain":[0.001,0.007]}},"y2":{"field":"b8"}}},
{"mark":{"type":"area","fill":"#ece41c","stroke":"#ece41c","strokeWidth":0.6,"clip":true},"encoding":{"y":{"field":"b8","type":"quantitative","title":"Slowness (s/m)","scale":{"domain":[0.001,0.007]}},"y2":{"field":"b9"}}},
{"mark":{"type":"area","fill":"#2fe01c","stroke":"#2fe01c","strokeWidth":0.6,"clip":true},"encoding":{"y":{"field":"b9","type":"quantitative","title":"Slowness (s/m)","scale":{"domain":[0.001,0.007]}},"y2":{"field":"b10"}}},
{"mark":{"type":"area","fill":"#14c8e8","stroke":"#14c8e8","strokeWidth":0.6,"clip":true},"encoding":{"y":{"field":"b10","type":"quantitative","title":"Slowness (s/m)","scale":{"domain":[0.001,0.007]}},"y2":{"field":"b11"}}},
{"mark":{"type":"area","fill":"#3c33e6","stroke":"#3c33e6","strokeWidth":0.6,"clip":true},"encoding":{"y":{"field":"b11","type":"quantitative","title":"Slowness (s/m)","scale":{"domain":[0.001,0.007]}},"y2":{"field":"b12"}}},
{"mark":{"type":"area","fill":"#e8177f","stroke":"#e8177f","strokeWidth":0.6,"clip":true},"encoding":{"y":{"field":"b12","type":"quantitative","title":"Slowness (s/m)","scale":{"domain":[0.001,0.007]}},"y2":{"field":"b13"}}}
]},
{"data":{"name":"obs"},"transform":[{"filter":"datum.p==='KLGV308'"}],
"encoding":{"x":{"field":"f","type":"quantitative","title":"Frequency (Hz)","scale":{"type":"log","domain":[2.99,23]}}},
"layer":[
{"mark":{"type":"rule","color":"#888","strokeWidth":0.8,"clip":true},"encoding":{"y":{"field":"lo","type":"quantitative","title":"Slowness (s/m)","scale":{"domain":[0.001,0.007]}},"y2":{"field":"hi"}}},
{"mark":{"type":"tick","orient":"horizontal","color":"#888","size":8,"thickness":0.8,"clip":true},"encoding":{"y":{"field":"lo","type":"quantitative","title":"Slowness (s/m)","scale":{"domain":[0.001,0.007]}}}},
{"mark":{"type":"tick","orient":"horizontal","color":"#888","size":8,"thickness":0.8,"clip":true},"encoding":{"y":{"field":"hi","type":"quantitative","title":"Slowness (s/m)","scale":{"domain":[0.001,0.007]}}}},
{"mark":{"type":"line","color":"#000","strokeWidth":2.5,"interpolate":"monotone","clip":true},"encoding":{"y":{"field":"s","type":"quantitative","title":"Slowness (s/m)","scale":{"domain":[0.001,0.007]}}}},
{"mark":{"type":"circle","color":"#000","size":22,"opacity":1,"clip":true},"encoding":{"y":{"field":"s","type":"quantitative","title":"Slowness (s/m)","scale":{"domain":[0.001,0.007]}}}}
]}
]},
{"width":164,"height":270,"title":{"text":"NIE","dx":10},
"layer":[
{"data":{"name":"fan"},"transform":[{"filter":"datum.p==='NIE'"}],
"encoding":{"x":{"field":"f","type":"quantitative","title":"Frequency (Hz)","scale":{"type":"log","domain":[2.89,20.9]},"axis":{"labelOverlap":false,"values":[3,4,5,6,7,8,9,10,15,20],"labelExpr":"indexof([4,6,8,10,20],datum.value)>=0 ? ''+datum.value : ''","gridColor":{"condition":{"test":"indexof([4,6,8,10,20],datum.value)>=0","value":"#dcdcdc"},"value":"#f0f0f0"},"tickSize":{"condition":{"test":"indexof([4,6,8,10,20],datum.value)>=0","value":6},"value":3}}}},
"layer":[
{"mark":{"type":"area","fill":"#e8177f","stroke":"#e8177f","strokeWidth":0.6,"clip":true},"encoding":{"y":{"field":"b0","type":"quantitative","title":"Slowness (s/m)","scale":{"domain":[0.0015,0.007]},"axis":{"values":[0.002,0.003,0.004,0.005,0.006,0.007],"format":".4f","labelOverlap":false}},"y2":{"field":"b1"}}},
{"mark":{"type":"area","fill":"#3c33e6","stroke":"#3c33e6","strokeWidth":0.6,"clip":true},"encoding":{"y":{"field":"b1","type":"quantitative","title":"Slowness (s/m)","scale":{"domain":[0.0015,0.007]}},"y2":{"field":"b2"}}},
{"mark":{"type":"area","fill":"#14c8e8","stroke":"#14c8e8","strokeWidth":0.6,"clip":true},"encoding":{"y":{"field":"b2","type":"quantitative","title":"Slowness (s/m)","scale":{"domain":[0.0015,0.007]}},"y2":{"field":"b3"}}},
{"mark":{"type":"area","fill":"#2fe01c","stroke":"#2fe01c","strokeWidth":0.6,"clip":true},"encoding":{"y":{"field":"b3","type":"quantitative","title":"Slowness (s/m)","scale":{"domain":[0.0015,0.007]}},"y2":{"field":"b4"}}},
{"mark":{"type":"area","fill":"#ece41c","stroke":"#ece41c","strokeWidth":0.6,"clip":true},"encoding":{"y":{"field":"b4","type":"quantitative","title":"Slowness (s/m)","scale":{"domain":[0.0015,0.007]}},"y2":{"field":"b5"}}},
{"mark":{"type":"area","fill":"#ff8c1a","stroke":"#ff8c1a","strokeWidth":0.6,"clip":true},"encoding":{"y":{"field":"b5","type":"quantitative","title":"Slowness (s/m)","scale":{"domain":[0.0015,0.007]}},"y2":{"field":"b6"}}},
{"mark":{"type":"area","fill":"#e8320c","stroke":"#e8320c","strokeWidth":0.6,"clip":true},"encoding":{"y":{"field":"b6","type":"quantitative","title":"Slowness (s/m)","scale":{"domain":[0.0015,0.007]}},"y2":{"field":"b7"}}},
{"mark":{"type":"area","fill":"#ff8c1a","stroke":"#ff8c1a","strokeWidth":0.6,"clip":true},"encoding":{"y":{"field":"b7","type":"quantitative","title":"Slowness (s/m)","scale":{"domain":[0.0015,0.007]}},"y2":{"field":"b8"}}},
{"mark":{"type":"area","fill":"#ece41c","stroke":"#ece41c","strokeWidth":0.6,"clip":true},"encoding":{"y":{"field":"b8","type":"quantitative","title":"Slowness (s/m)","scale":{"domain":[0.0015,0.007]}},"y2":{"field":"b9"}}},
{"mark":{"type":"area","fill":"#2fe01c","stroke":"#2fe01c","strokeWidth":0.6,"clip":true},"encoding":{"y":{"field":"b9","type":"quantitative","title":"Slowness (s/m)","scale":{"domain":[0.0015,0.007]}},"y2":{"field":"b10"}}},
{"mark":{"type":"area","fill":"#14c8e8","stroke":"#14c8e8","strokeWidth":0.6,"clip":true},"encoding":{"y":{"field":"b10","type":"quantitative","title":"Slowness (s/m)","scale":{"domain":[0.0015,0.007]}},"y2":{"field":"b11"}}},
{"mark":{"type":"area","fill":"#3c33e6","stroke":"#3c33e6","strokeWidth":0.6,"clip":true},"encoding":{"y":{"field":"b11","type":"quantitative","title":"Slowness (s/m)","scale":{"domain":[0.0015,0.007]}},"y2":{"field":"b12"}}},
{"mark":{"type":"area","fill":"#e8177f","stroke":"#e8177f","strokeWidth":0.6,"clip":true},"encoding":{"y":{"field":"b12","type":"quantitative","title":"Slowness (s/m)","scale":{"domain":[0.0015,0.007]}},"y2":{"field":"b13"}}}
]},
{"data":{"name":"obs"},"transform":[{"filter":"datum.p==='NIE'"}],
"encoding":{"x":{"field":"f","type":"quantitative","title":"Frequency (Hz)","scale":{"type":"log","domain":[2.89,20.9]}}},
"layer":[
{"mark":{"type":"rule","color":"#888","strokeWidth":0.8,"clip":true},"encoding":{"y":{"field":"lo","type":"quantitative","title":"Slowness (s/m)","scale":{"domain":[0.0015,0.007]}},"y2":{"field":"hi"}}},
{"mark":{"type":"tick","orient":"horizontal","color":"#888","size":8,"thickness":0.8,"clip":true},"encoding":{"y":{"field":"lo","type":"quantitative","title":"Slowness (s/m)","scale":{"domain":[0.0015,0.007]}}}},
{"mark":{"type":"tick","orient":"horizontal","color":"#888","size":8,"thickness":0.8,"clip":true},"encoding":{"y":{"field":"hi","type":"quantitative","title":"Slowness (s/m)","scale":{"domain":[0.0015,0.007]}}}},
{"mark":{"type":"line","color":"#000","strokeWidth":2.5,"interpolate":"monotone","clip":true},"encoding":{"y":{"field":"s","type":"quantitative","title":"Slowness (s/m)","scale":{"domain":[0.0015,0.007]}}}},
{"mark":{"type":"circle","color":"#000","size":22,"opacity":1,"clip":true},"encoding":{"y":{"field":"s","type":"quantitative","title":"Slowness (s/m)","scale":{"domain":[0.0015,0.007]}}}}
]}
]},
{"width":157,"height":270,"title":{"text":"SPRUETZ","dx":5},
"layer":[
{"data":{"name":"fan"},"transform":[{"filter":"datum.p==='SPRUETZ'"}],
"encoding":{"x":{"field":"f","type":"quantitative","title":"Frequency (Hz)","scale":{"type":"log","domain":[6.96,23.3]},"axis":{"labelOverlap":false,"values":[7,8,9,10,15,20],"labelExpr":"indexof([8,10,20],datum.value)>=0 ? ''+datum.value : ''","gridColor":{"condition":{"test":"indexof([8,10,20],datum.value)>=0","value":"#dcdcdc"},"value":"#f0f0f0"},"tickSize":{"condition":{"test":"indexof([8,10,20],datum.value)>=0","value":6},"value":3}}}},
"layer":[
{"mark":{"type":"area","fill":"#e8177f","stroke":"#e8177f","strokeWidth":0.6,"clip":true},"encoding":{"y":{"field":"b0","type":"quantitative","title":"Slowness (s/m)","scale":{"domain":[0.002,0.0045]},"axis":{"values":[0.002,0.003,0.004],"format":".4f","labelOverlap":false}},"y2":{"field":"b1"}}},
{"mark":{"type":"area","fill":"#3c33e6","stroke":"#3c33e6","strokeWidth":0.6,"clip":true},"encoding":{"y":{"field":"b1","type":"quantitative","title":"Slowness (s/m)","scale":{"domain":[0.002,0.0045]}},"y2":{"field":"b2"}}},
{"mark":{"type":"area","fill":"#14c8e8","stroke":"#14c8e8","strokeWidth":0.6,"clip":true},"encoding":{"y":{"field":"b2","type":"quantitative","title":"Slowness (s/m)","scale":{"domain":[0.002,0.0045]}},"y2":{"field":"b3"}}},
{"mark":{"type":"area","fill":"#2fe01c","stroke":"#2fe01c","strokeWidth":0.6,"clip":true},"encoding":{"y":{"field":"b3","type":"quantitative","title":"Slowness (s/m)","scale":{"domain":[0.002,0.0045]}},"y2":{"field":"b4"}}},
{"mark":{"type":"area","fill":"#ece41c","stroke":"#ece41c","strokeWidth":0.6,"clip":true},"encoding":{"y":{"field":"b4","type":"quantitative","title":"Slowness (s/m)","scale":{"domain":[0.002,0.0045]}},"y2":{"field":"b5"}}},
{"mark":{"type":"area","fill":"#ff8c1a","stroke":"#ff8c1a","strokeWidth":0.6,"clip":true},"encoding":{"y":{"field":"b5","type":"quantitative","title":"Slowness (s/m)","scale":{"domain":[0.002,0.0045]}},"y2":{"field":"b6"}}},
{"mark":{"type":"area","fill":"#e8320c","stroke":"#e8320c","strokeWidth":0.6,"clip":true},"encoding":{"y":{"field":"b6","type":"quantitative","title":"Slowness (s/m)","scale":{"domain":[0.002,0.0045]}},"y2":{"field":"b7"}}},
{"mark":{"type":"area","fill":"#ff8c1a","stroke":"#ff8c1a","strokeWidth":0.6,"clip":true},"encoding":{"y":{"field":"b7","type":"quantitative","title":"Slowness (s/m)","scale":{"domain":[0.002,0.0045]}},"y2":{"field":"b8"}}},
{"mark":{"type":"area","fill":"#ece41c","stroke":"#ece41c","strokeWidth":0.6,"clip":true},"encoding":{"y":{"field":"b8","type":"quantitative","title":"Slowness (s/m)","scale":{"domain":[0.002,0.0045]}},"y2":{"field":"b9"}}},
{"mark":{"type":"area","fill":"#2fe01c","stroke":"#2fe01c","strokeWidth":0.6,"clip":true},"encoding":{"y":{"field":"b9","type":"quantitative","title":"Slowness (s/m)","scale":{"domain":[0.002,0.0045]}},"y2":{"field":"b10"}}},
{"mark":{"type":"area","fill":"#14c8e8","stroke":"#14c8e8","strokeWidth":0.6,"clip":true},"encoding":{"y":{"field":"b10","type":"quantitative","title":"Slowness (s/m)","scale":{"domain":[0.002,0.0045]}},"y2":{"field":"b11"}}},
{"mark":{"type":"area","fill":"#3c33e6","stroke":"#3c33e6","strokeWidth":0.6,"clip":true},"encoding":{"y":{"field":"b11","type":"quantitative","title":"Slowness (s/m)","scale":{"domain":[0.002,0.0045]}},"y2":{"field":"b12"}}},
{"mark":{"type":"area","fill":"#e8177f","stroke":"#e8177f","strokeWidth":0.6,"clip":true},"encoding":{"y":{"field":"b12","type":"quantitative","title":"Slowness (s/m)","scale":{"domain":[0.002,0.0045]}},"y2":{"field":"b13"}}}
]},
{"data":{"name":"obs"},"transform":[{"filter":"datum.p==='SPRUETZ'"}],
"encoding":{"x":{"field":"f","type":"quantitative","title":"Frequency (Hz)","scale":{"type":"log","domain":[6.96,23.3]}}},
"layer":[
{"mark":{"type":"rule","color":"#666","strokeWidth":0.8,"clip":true},"encoding":{"y":{"field":"lo","type":"quantitative","title":"Slowness (s/m)","scale":{"domain":[0.002,0.0045]}},"y2":{"field":"hi"}}},
{"mark":{"type":"tick","orient":"horizontal","color":"#666","size":8,"thickness":0.8,"clip":true},"encoding":{"y":{"field":"lo","type":"quantitative","title":"Slowness (s/m)","scale":{"domain":[0.002,0.0045]}}}},
{"mark":{"type":"tick","orient":"horizontal","color":"#666","size":8,"thickness":0.8,"clip":true},"encoding":{"y":{"field":"hi","type":"quantitative","title":"Slowness (s/m)","scale":{"domain":[0.002,0.0045]}}}},
{"mark":{"type":"line","color":"#000","strokeWidth":2.5,"interpolate":"monotone","clip":true},"encoding":{"y":{"field":"s","type":"quantitative","title":"Slowness (s/m)","scale":{"domain":[0.002,0.0045]}}}},
{"mark":{"type":"circle","color":"#000","size":22,"opacity":1,"clip":true},"encoding":{"y":{"field":"s","type":"quantitative","title":"Slowness (s/m)","scale":{"domain":[0.002,0.0045]}}}}
]}
]},
{"width":165,"height":270,"title":{"text":"WIEBEL","dx":12},
"layer":[
{"data":{"name":"fan"},"transform":[{"filter":"datum.p==='WIEBEL'"}],
"encoding":{"x":{"field":"f","type":"quantitative","title":"Frequency (Hz)","scale":{"type":"log","domain":[2,24]},"axis":{"labelOverlap":false,"values":[2,3,4,5,6,7,8,9,10,15,20],"labelExpr":"indexof([2,4,6,8,10,20],datum.value)>=0 ? ''+datum.value : ''","gridColor":{"condition":{"test":"indexof([2,4,6,8,10,20],datum.value)>=0","value":"#dcdcdc"},"value":"#f0f0f0"},"tickSize":{"condition":{"test":"indexof([2,4,6,8,10,20],datum.value)>=0","value":6},"value":3}}}},
"layer":[
{"mark":{"type":"area","fill":"#e8177f","stroke":"#e8177f","strokeWidth":0.6,"clip":true},"encoding":{"y":{"field":"b0","type":"quantitative","title":"Slowness (s/m)","scale":{"domain":[0.001,0.007]},"axis":{"values":[0.001,0.002,0.003,0.004,0.005,0.006,0.007],"format":".4f","labelOverlap":false}},"y2":{"field":"b1"}}},
{"mark":{"type":"area","fill":"#3c33e6","stroke":"#3c33e6","strokeWidth":0.6,"clip":true},"encoding":{"y":{"field":"b1","type":"quantitative","title":"Slowness (s/m)","scale":{"domain":[0.001,0.007]}},"y2":{"field":"b2"}}},
{"mark":{"type":"area","fill":"#14c8e8","stroke":"#14c8e8","strokeWidth":0.6,"clip":true},"encoding":{"y":{"field":"b2","type":"quantitative","title":"Slowness (s/m)","scale":{"domain":[0.001,0.007]}},"y2":{"field":"b3"}}},
{"mark":{"type":"area","fill":"#2fe01c","stroke":"#2fe01c","strokeWidth":0.6,"clip":true},"encoding":{"y":{"field":"b3","type":"quantitative","title":"Slowness (s/m)","scale":{"domain":[0.001,0.007]}},"y2":{"field":"b4"}}},
{"mark":{"type":"area","fill":"#ece41c","stroke":"#ece41c","strokeWidth":0.6,"clip":true},"encoding":{"y":{"field":"b4","type":"quantitative","title":"Slowness (s/m)","scale":{"domain":[0.001,0.007]}},"y2":{"field":"b5"}}},
{"mark":{"type":"area","fill":"#ff8c1a","stroke":"#ff8c1a","strokeWidth":0.6,"clip":true},"encoding":{"y":{"field":"b5","type":"quantitative","title":"Slowness (s/m)","scale":{"domain":[0.001,0.007]}},"y2":{"field":"b6"}}},
{"mark":{"type":"area","fill":"#e8320c","stroke":"#e8320c","strokeWidth":0.6,"clip":true},"encoding":{"y":{"field":"b6","type":"quantitative","title":"Slowness (s/m)","scale":{"domain":[0.001,0.007]}},"y2":{"field":"b7"}}},
{"mark":{"type":"area","fill":"#ff8c1a","stroke":"#ff8c1a","strokeWidth":0.6,"clip":true},"encoding":{"y":{"field":"b7","type":"quantitative","title":"Slowness (s/m)","scale":{"domain":[0.001,0.007]}},"y2":{"field":"b8"}}},
{"mark":{"type":"area","fill":"#ece41c","stroke":"#ece41c","strokeWidth":0.6,"clip":true},"encoding":{"y":{"field":"b8","type":"quantitative","title":"Slowness (s/m)","scale":{"domain":[0.001,0.007]}},"y2":{"field":"b9"}}},
{"mark":{"type":"area","fill":"#2fe01c","stroke":"#2fe01c","strokeWidth":0.6,"clip":true},"encoding":{"y":{"field":"b9","type":"quantitative","title":"Slowness (s/m)","scale":{"domain":[0.001,0.007]}},"y2":{"field":"b10"}}},
{"mark":{"type":"area","fill":"#14c8e8","stroke":"#14c8e8","strokeWidth":0.6,"clip":true},"encoding":{"y":{"field":"b10","type":"quantitative","title":"Slowness (s/m)","scale":{"domain":[0.001,0.007]}},"y2":{"field":"b11"}}},
{"mark":{"type":"area","fill":"#3c33e6","stroke":"#3c33e6","strokeWidth":0.6,"clip":true},"encoding":{"y":{"field":"b11","type":"quantitative","title":"Slowness (s/m)","scale":{"domain":[0.001,0.007]}},"y2":{"field":"b12"}}},
{"mark":{"type":"area","fill":"#e8177f","stroke":"#e8177f","strokeWidth":0.6,"clip":true},"encoding":{"y":{"field":"b12","type":"quantitative","title":"Slowness (s/m)","scale":{"domain":[0.001,0.007]}},"y2":{"field":"b13"}}}
]},
{"data":{"name":"obs"},"transform":[{"filter":"datum.p==='WIEBEL'"}],
"encoding":{"x":{"field":"f","type":"quantitative","title":"Frequency (Hz)","scale":{"type":"log","domain":[2,24]}}},
"layer":[
{"mark":{"type":"rule","color":"#888","strokeWidth":0.8,"clip":true},"encoding":{"y":{"field":"lo","type":"quantitative","title":"Slowness (s/m)","scale":{"domain":[0.001,0.007]}},"y2":{"field":"hi"}}},
{"mark":{"type":"tick","orient":"horizontal","color":"#888","size":8,"thickness":0.8,"clip":true},"encoding":{"y":{"field":"lo","type":"quantitative","title":"Slowness (s/m)","scale":{"domain":[0.001,0.007]}}}},
{"mark":{"type":"tick","orient":"horizontal","color":"#888","size":8,"thickness":0.8,"clip":true},"encoding":{"y":{"field":"hi","type":"quantitative","title":"Slowness (s/m)","scale":{"domain":[0.001,0.007]}}}},
{"mark":{"type":"line","color":"#000","strokeWidth":2.5,"interpolate":"monotone","clip":true},"encoding":{"y":{"field":"s","type":"quantitative","title":"Slowness (s/m)","scale":{"domain":[0.001,0.007]}}}},
{"mark":{"type":"circle","color":"#000","size":22,"opacity":1,"clip":true},"encoding":{"y":{"field":"s","type":"quantitative","title":"Slowness (s/m)","scale":{"domain":[0.001,0.007]}}}}
]}
]}
]
}
